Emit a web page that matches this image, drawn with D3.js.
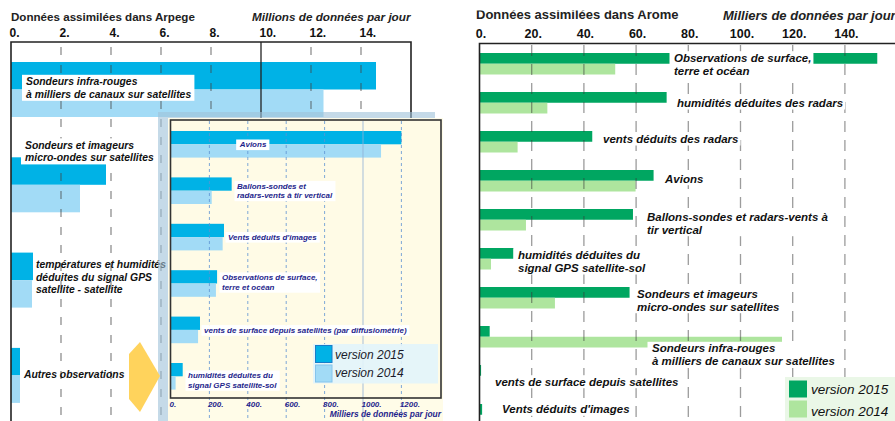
<!DOCTYPE html>
<html><head><meta charset="utf-8">
<script src="https://cdn.jsdelivr.net/npm/d3@7"></script>
<style>body{margin:0;background:#fff;}svg{display:block;font-family:"Liberation Sans",Arial,sans-serif;}</style>
</head><body><svg id="c" width="895" height="421"></svg>
<script>
// ---------- DATA ----------
const arpegeCategories = ["Sondeurs infra-rouges\nà milliers de canaux sur satellites","Sondeurs et imageurs\nmicro-ondes sur satellites","températures et humidités\ndéduites du signal GPS\nsatellite - satellite","Autres observations"];
const arpege2015 = [14.6, 3.8, 0.88, 0.36];
const arpege2014 = [12.5, 2.76, 0.84, 0.36];
const arpegeTicks = [0,2,4,6,8,10,12,14];

const insetCategories = ["Avions","Ballons-sondes et\nradars-vents à tir vertical","Vents déduits d'images","Observations de surface,\nterre et océan","vents de surface depuis satellites (par diffusiométrie)","humidités déduites du\nsignal GPS satellite-sol"];
const inset2015 = [1200, 316, 276, 240, 151, 61];
const inset2014 = [1094, 212, 269, 234, 141, 24];
const insetTicks = [0,200,400,600,800,1000,1200];

const aromeCategories = ["Observations de surface,\nterre et océan","humidités déduites des radars","vents déduits des radars","Avions","Ballons-sondes et radars-vents à\ntir vertical","humidités déduites du\nsignal GPS satellite-sol","Sondeurs et imageurs\nmicro-ondes sur satellites","Sondeurs infra-rouges\nà milliers de canaux sur satellites","vents de surface depuis satellites","Vents déduits d'images"];
const arome2015 = [152.4, 71.7, 43.2, 66.7, 58.8, 13, 57.5, 3.9, 0.6, 1.0];
const arome2014 = [52, 26, 14.6, 59.8, 17.8, 4.4, 28.9, 115.9, 0, 0];
const aromeTicks = [0,20,40,60,80,100,120,140];

const seriesNames = ["version 2015","version 2014"];

// ---------- LAYOUT ----------
const arpegeLabelX = [26, 25, 36, 24], arpegeLabelDy = [23, -8.7, 15.5, 30], arpegeLabelBox = [true, true, false, false];
const insetLabelX = [253, 237, 228, 222, 204, 188], insetLabelDy = [16.3, 11.3, 16, 10, 16.3, 15.3];
const aromeLabelX = [674, 677, 603, 665, 647, 518, 637, 652, 495, 502];
const aromeLabelDy = [8.7, 15, 12, 12.7, 11.7, 11, 10.7, 26.3, 20.7, 9.3];

const cBlue = ["#00b2e6", "#a2dbf6"], cGreen = ["#00a661", "#aee59e"];
const NAVY = "#1f1f8c";
const svg = d3.select("#c");

function bandScale(n, start, step, bw) {
  const pi = 1 - bw / step;
  return d3.scaleBand().domain(d3.range(n)).range([start, start + step * (n - pi)]).paddingInner(pi).paddingOuter(0);
}
function label(g, text, x, y, lh, o) {
  const lg = g.append("g");
  text.split("\n").forEach((ln, k) => {
    lg.append("text").attr("x", x).attr("y", y + k * lh).text(ln)
      .attr("font-size", o.size).attr("font-weight", "bold").attr("font-style", "italic")
      .attr("fill", o.color || "#111").attr("text-anchor", o.anchor || "start");
  });
  if (o.box) {
    const b = lg.node().getBBox();
    lg.insert("rect", ":first-child").attr("x", b.x - o.padL).attr("y", b.y - o.padV)
      .attr("width", b.width + o.padL + o.padR).attr("height", b.height + 2 * o.padV).attr("fill", "#fff");
  }
}
function bars(g, vals15, vals14, x, y, colors) {
  const sub = d3.scaleBand().domain([0, 1]).range([0, y.bandwidth()]);
  const data = [];
  vals15.forEach((v, i) => { data.push({i, s: 0, v}); data.push({i, s: 1, v: vals14[i]}); });
  g.selectAll("rect.bar").data(data).join("rect").attr("class", "bar")
    .attr("x", x(0)).attr("y", d => y(d.i) + sub(d.s))
    .attr("width", d => Math.max(0, x(d.v) - x(0))).attr("height", sub.bandwidth())
    .attr("fill", d => colors[d.s]);
}

// ---------- LEFT: ARPEGE ----------
const xL = d3.scaleLinear().domain([0, 16]).range([11, 411]);
const yL = bandScale(arpegeCategories.length, 62, 95.3, 55);
const gL = svg.append("g");
bars(gL, arpege2015, arpege2014, xL, yL, cBlue);
gL.selectAll("line.grid").data(arpegeTicks.filter(t => t > 0)).join("line")
  .attr("x1", d => xL(d)).attr("x2", d => xL(d)).attr("y1", 42).attr("y2", 421)
  .attr("stroke", d => d === 10 ? "#222" : "#444").attr("stroke-width", 1.3)
  .attr("stroke-opacity", d => d === 10 ? 1 : 0.6)
  .attr("stroke-dasharray", d => d === 10 ? null : "8,10").attr("stroke-dashoffset", 13);
gL.append("path").attr("d", `M${xL(0)},421V42H${xL(16)}V421`).attr("fill", "none").attr("stroke", "#222").attr("stroke-width", 1.6);
const axL = gL.append("g").attr("transform", "translate(0,37)")
  .call(d3.axisTop(xL).tickValues(arpegeTicks).tickFormat(d => d + ".").tickSize(0).tickPadding(0));
axL.select(".domain").remove();
axL.selectAll("text").attr("y", 0).attr("dy", 0).attr("dx", -2).attr("text-anchor", "start")
  .attr("font-size", 12).attr("font-weight", "bold").attr("fill", "#111").attr("font-family", "Liberation Sans, Arial, sans-serif");
gL.append("text").attr("x", 11).attr("y", 21).text("Données assimilées dans Arpege")
  .attr("font-size", 11.6).attr("font-weight", "bold").attr("fill", "#222");
gL.append("text").attr("x", 252).attr("y", 21).text("Millions de données par jour")
  .attr("font-size", 11.7).attr("font-weight", "bold").attr("font-style", "italic").attr("fill", "#222");

// shadow of inset
svg.append("rect").attr("x", 158).attr("y", 112).attr("width", 277).attr("height", 320)
  .attr("fill", "#9fc2d8").attr("fill-opacity", 0.6);

arpegeCategories.forEach((c, i) => label(gL, c, arpegeLabelX[i], yL(i) + arpegeLabelDy[i], 12.6,
  {size: 10.4, box: arpegeLabelBox[i], padL: 4, padR: 3, padV: 1.2}));

// ---------- INSET ----------
const xI = d3.scaleLinear().domain([0, 1400]).range([171, 171 + 1400 * 0.192]);
const yI = bandScale(insetCategories.length, 131, 46.4, 26.6);
const gI = svg.append("g");
gI.append("rect").attr("x", 168).attr("y", 118).attr("width", 275).attr("height", 310).attr("fill", "#fffce8");
gI.append("rect").attr("x", 170.5).attr("y", 120).attr("width", 270.5).attr("height", 278).attr("fill", "#fffbe6");
bars(gI, inset2015, inset2014, xI, yI, cBlue);
gI.selectAll("line.grid").data(insetTicks.filter(t => t > 0)).join("line")
  .attr("x1", d => xI(d)).attr("x2", d => xI(d)).attr("y1", 121).attr("y2", 421)
  .attr("stroke", d => d === 1000 ? "#8fb0d6" : "#5d92d2").attr("stroke-width", 1)
  .attr("stroke-opacity", 0.8).attr("stroke-dasharray", d => d === 1000 ? null : "3,3");
gI.append("rect").attr("x", 170.5).attr("y", 120).attr("width", 270.5).attr("height", 278)
  .attr("fill", "none").attr("stroke", "#333").attr("stroke-width", 1.6);
const axI = gI.append("g").attr("transform", "translate(0,407)")
  .call(d3.axisBottom(xI).tickValues(insetTicks).tickFormat(d => d + ".").tickSize(0).tickPadding(0));
axI.select(".domain").remove();
axI.selectAll("text").attr("y", 0).attr("dy", 0).attr("dx", -2).attr("text-anchor", "start")
  .attr("font-size", 8).attr("font-weight", "bold").attr("font-style", "italic").attr("fill", NAVY)
  .attr("font-family", "Liberation Sans, Arial, sans-serif");
gI.append("text").attr("x", 441).attr("y", 416.5).attr("text-anchor", "end").text("Milliers de données par jour")
  .attr("font-size", 8.4).attr("font-weight", "bold").attr("font-style", "italic").attr("fill", NAVY);
insetCategories.forEach((c, i) => label(gI, c, insetLabelX[i], yI(i) + insetLabelDy[i], 9.7,
  {size: 8, color: NAVY, anchor: i === 0 ? "middle" : "start", box: true, padL: 2.5, padR: 2.5, padV: 0.8}));
// inset legend
const lgI = gI.append("g");
lgI.append("rect").attr("x", 313).attr("y", 344).attr("width", 125).attr("height", 39.5).attr("fill", "#e2f4fb").attr("fill-opacity", 0.9);
seriesNames.forEach((s, k) => {
  lgI.append("rect").attr("x", 315.5).attr("y", 345.5 + k * 19.5).attr("width", 16.5).attr("height", 17)
    .attr("fill", cBlue[k]).attr("stroke", k === 0 ? "#1a7cc8" : "#86c4ec").attr("stroke-width", 1);
  lgI.append("text").attr("x", 335).attr("y", 358.5 + k * 18.5).text(s)
    .attr("font-size", 12).attr("font-style", "italic").attr("fill", "#1a1a2a");
});

// arrow
svg.append("polygon").attr("points", "129,354 140,342 160,376 140,412 129,399").attr("fill", "#ffd35c");

// ---------- RIGHT: AROME ----------
const xR = d3.scaleLinear().domain([0, 160]).range([479.5, 479.5 + 160 * 2.61]);
const yR = bandScale(aromeCategories.length, 53, 39, 21.5);
const gR = svg.append("g");
bars(gR, arome2015, arome2014, xR, yR, cGreen);
gR.selectAll("line.grid").data(aromeTicks.filter(t => t > 0)).join("line")
  .attr("x1", d => xR(d)).attr("x2", d => xR(d)).attr("y1", 44).attr("y2", 421)
  .attr("stroke", "#3a3a3a").attr("stroke-opacity", 0.5).attr("stroke-width", 1.3)
  .attr("stroke-dasharray", "11,8").attr("stroke-dashoffset", -1);
gR.append("path").attr("d", `M${xR(0)},421V43.5H895`).attr("fill", "none").attr("stroke", "#222").attr("stroke-width", 1.6);
const axR = gR.append("g").attr("transform", "translate(0,38)")
  .call(d3.axisTop(xR).tickValues(aromeTicks).tickFormat(d => d + ".").tickSize(0).tickPadding(0));
axR.select(".domain").remove();
axR.selectAll("text").attr("y", 0).attr("dy", 0).attr("dx", 1).attr("text-anchor", "middle")
  .attr("font-size", 12.5).attr("font-weight", "bold").attr("fill", "#111").attr("font-family", "Liberation Sans, Arial, sans-serif");
svg.append("clipPath").attr("id", "topclip").append("rect").attr("x", 0).attr("y", 10.5).attr("width", 895).attr("height", 411);
gR.append("text").attr("x", 476).attr("y", 18.5).text("Données assimilées dans Arome").attr("clip-path", "url(#topclip)")
  .attr("font-size", 13).attr("font-weight", "bold").attr("fill", "#222");
gR.append("text").attr("x", 723).attr("y", 20).text("Milliers de données par jour")
  .attr("font-size", 13).attr("font-weight", "bold").attr("font-style", "italic").attr("fill", "#222");
aromeCategories.forEach((c, i) => label(gR, c, aromeLabelX[i], yR(i) + aromeLabelDy[i], 13,
  {size: 11.5, box: true, padL: 4.5, padR: 2, padV: 0.5}));
const lgR = gR.append("g");
lgR.append("rect").attr("x", 785).attr("y", 377).attr("width", 110).attr("height", 44).attr("fill", "#eaf7e7");
seriesNames.forEach((s, k) => {
  lgR.append("rect").attr("x", 789).attr("y", 380.5 + k * 20).attr("width", 18).attr("height", 17).attr("fill", cGreen[k]);
  lgR.append("text").attr("x", 811).attr("y", 394 + k * 22).text(s)
    .attr("font-size", 13.5).attr("font-style", "italic").attr("fill", "#111");
});
</script></body></html>
